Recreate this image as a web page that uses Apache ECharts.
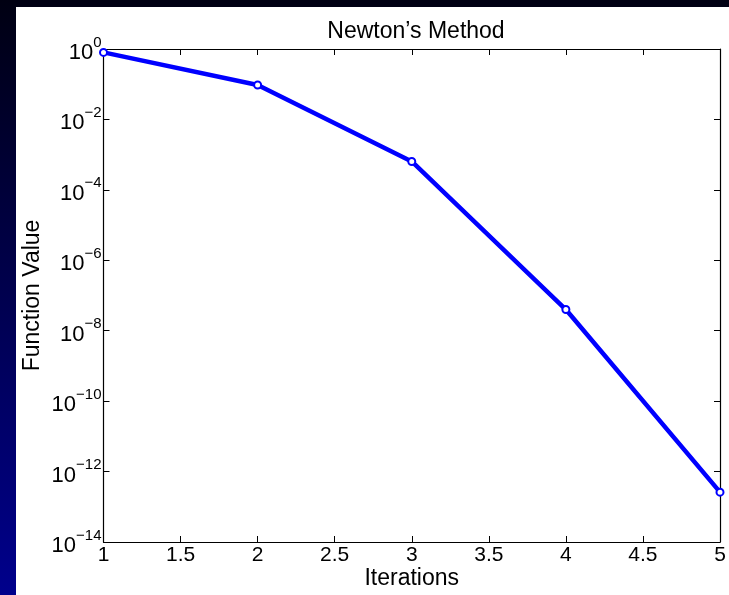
<!DOCTYPE html>
<html>
<head>
<meta charset="utf-8">
<script src="https://cdn.jsdelivr.net/npm/echarts@6/dist/echarts.min.js"></script>
<style>
  html, body { margin: 0; padding: 0; }
  #chart { width: 729px; height: 595px; }
</style>
</head>
<body>
<div id="chart"></div>
<script>
// Iteration counts and the function value reached at each one
const iterations = [1, 2, 3, 4, 5];
const functionValues = [0.8, 0.095, 6.4e-4, 4.0e-8, 2.6e-13];

// Axis ranges and tick spacing
const xTicks = { min: 1, max: 5, step: 0.5 };
const yRange = { min: 1e-14, max: 1 };

const titleText = 'Newton\u2019s Method';
const xName = 'Iterations';
const yName = 'Function Value';

const FONT = '"Liberation Sans", Arial, Helvetica, sans-serif';
const INK = '#000';
const LINE_BLUE = '#0000ff';

const chart = echarts.init(document.getElementById('chart'), null, { renderer: 'canvas' });

// Decade labels drawn as 10 with a raised exponent
function powerLabel(v) {
  const e = Math.round(Math.log10(v));
  const exp = e < 0 ? '\u2212' + Math.abs(e) : String(e);
  return '{b|10}{s|' + exp + '}';
}

const tickStyle = { show: true, inside: true, length: 6, lineStyle: { color: INK, width: 1 } };
const lineStyle = { show: true, lineStyle: { color: INK, width: 1.2 } };

chart.setOption({
  backgroundColor: {
    type: 'linear', x: 0, y: 0, x2: 0, y2: 1,
    colorStops: [
      { offset: 0, color: '#000012' },
      { offset: 1, color: '#00008c' }
    ]
  },
  animation: false,
  graphic: [{
    type: 'rect', z: -10,
    shape: { x: 16, y: 7, width: 729, height: 595 },
    style: { fill: '#ffffff' }
  }],
  title: {
    text: titleText,
    left: 411, top: 15, textAlign: 'center',
    textStyle: { fontFamily: FONT, fontSize: 23, fontWeight: 'normal', color: INK }
  },
  grid: { left: 103.5, top: 49, right: 9, bottom: 52.5, containLabel: false },
  xAxis: [{
    type: 'value', min: xTicks.min, max: xTicks.max, interval: xTicks.step,
    name: xName, nameLocation: 'middle', nameGap: 25, nameMoveOverlap: false,
    nameTextStyle: { fontFamily: FONT, fontSize: 23, color: INK },
    axisLine: lineStyle, axisTick: tickStyle, splitLine: { show: false },
    axisLabel: { fontFamily: FONT, fontSize: 21, color: INK, margin: 3 }
  }, {
    type: 'value', position: 'top', min: xTicks.min, max: xTicks.max, interval: xTicks.step,
    axisLine: lineStyle, axisTick: tickStyle, splitLine: { show: false },
    axisLabel: { show: false }
  }],
  yAxis: [{
    type: 'log', logBase: 10, min: yRange.min, max: yRange.max, interval: 2,
    name: yName, nameLocation: 'middle', nameGap: 59, nameMoveOverlap: false,
    nameTextStyle: { fontFamily: FONT, fontSize: 23, color: INK },
    axisLine: lineStyle, axisTick: tickStyle, splitLine: { show: false },
    axisLabel: {
      formatter: powerLabel, margin: 2, padding: [8, 0, 0, 0],
      rich: {
        b: { fontFamily: FONT, fontSize: 22, color: INK, verticalAlign: 'middle', lineHeight: 36 },
        s: { fontFamily: FONT, fontSize: 15, color: INK, verticalAlign: 'top', lineHeight: 15 }
      }
    }
  }, {
    type: 'log', logBase: 10, position: 'right', min: yRange.min, max: yRange.max, interval: 2,
    axisLine: lineStyle, axisTick: tickStyle, splitLine: { show: false },
    axisLabel: { show: false }
  }],
  series: [{
    type: 'line',
    data: iterations.map((x, i) => [x, functionValues[i]]),
    clip: false,
    lineStyle: { color: LINE_BLUE, width: 4.5 },
    itemStyle: { color: LINE_BLUE, borderColor: LINE_BLUE, borderWidth: 5 },
    symbol: 'emptyCircle', symbolSize: 7
  }]
});
</script>
</body>
</html>
